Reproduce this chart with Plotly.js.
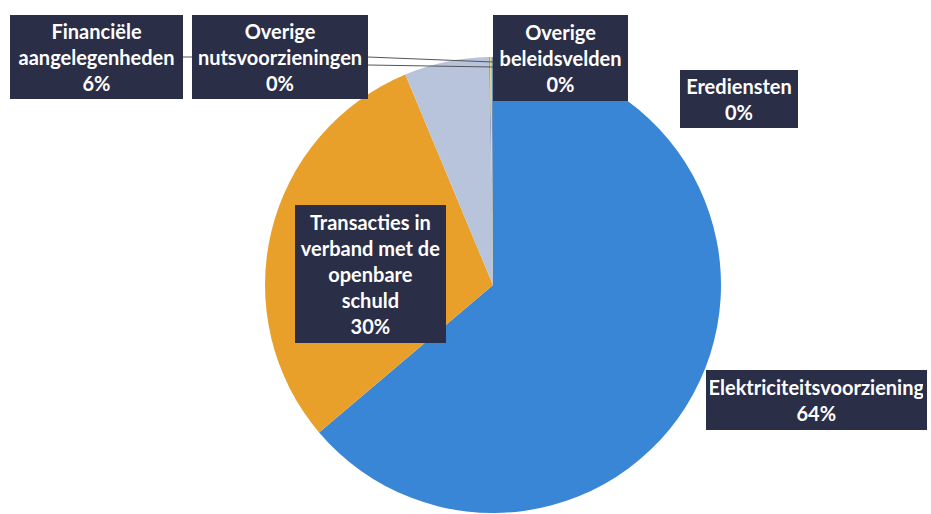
<!DOCTYPE html>
<html>
<head>
<meta charset="utf-8">
<script src="https://cdn.plot.ly/plotly-3.0.1.min.js"></script>
<style>html,body{margin:0;padding:0;background:#fff;}#chart{width:931px;height:514px;}</style>
</head>
<body>
<div id="chart"></div>
<script>
// Data (clockwise from 12 o'clock)
const categories = ["Elektriciteitsvoorziening", "Transacties in verband met de openbare schuld", "Financiële aangelegenheden", "Overige nutsvoorzieningen", "Overige beleidsvelden", "Erediensten"];
const labelLines = [["Elektriciteitsvoorziening"], ["Transacties in", "verband met de", "openbare", "schuld"], ["Financiële", "aangelegenheden"], ["Overige", "nutsvoorzieningen"], ["Overige", "beleidsvelden"], ["Erediensten"]];
const values = [64, 30, 6, 0.1, 0.1, 0.1];
const colors = ["#3a86d6", "#e8a02b", "#b8c4dc", "#8fa3c6", "#e8d84a", "#6f8fbf"];

const total = values.reduce((a, b) => a + b, 0);
const pct = values.map(v => Math.round(v / total * 100) + "%");

const W = 931, H = 514;
const px = (x) => x / W, py = (y) => 1 - y / H;

// label box placement in pixels: [centerX, centerY, textWidth, textHeight]
const boxes = [
  [816.5, 400, 213, 52],
  [370.5, 274, 143, 130],
  [96.5, 56.5, 165, 76],
  [280, 56.5, 168, 76],
  [560.5, 57.5, 127, 78],
  [739, 99, 110, 50]
];

const annotations = categories.map((c, i) => ({
  xref: "paper", yref: "paper",
  x: px(boxes[i][0]), y: py(boxes[i][1]),
  xanchor: "center", yanchor: "middle",
  text: labelLines[i].concat([pct[i]]).join("<br>"),
  showarrow: false,
  width: boxes[i][2], height: boxes[i][3],
  bgcolor: "#2b2e47", bordercolor: "#2b2e47", borderwidth: 1, borderpad: 3,
  font: {family: "Lato, 'Open Sans', sans-serif", size: 20, color: "#ffffff", weight: "bold"},
  align: "center"
}));

const shapes = [
  {type: "line", xref: "paper", yref: "paper", x0: px(183), y0: py(57), x1: px(192), y1: py(57), line: {color: "#555", width: 1}},
  {type: "line", xref: "paper", yref: "paper", x0: px(368), y0: py(57), x1: px(493), y1: py(62), line: {color: "#555", width: 1}},
  {type: "line", xref: "paper", yref: "paper", x0: px(368), y0: py(65), x1: px(493), y1: py(67), line: {color: "#555", width: 1}}
];

const trace = {
  type: "pie",
  labels: categories,
  values: values,
  sort: false,
  direction: "clockwise",
  rotation: 0,
  marker: {colors: colors, line: {width: 0}},
  textinfo: "none",
  hoverinfo: "label+percent",
  domain: {x: [265 / W, 721 / W], y: [1 - 513 / H, 1 - 57 / H]}
};

const layout = {
  width: W, height: H,
  margin: {l: 0, r: 0, t: 0, b: 0},
  paper_bgcolor: "#ffffff",
  showlegend: false,
  annotations: annotations,
  shapes: shapes
};

Plotly.newPlot("chart", [trace], layout, {displayModeBar: false, staticPlot: true});
</script>
</body>
</html>
